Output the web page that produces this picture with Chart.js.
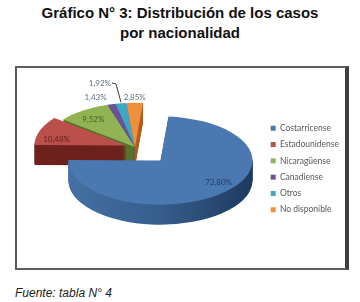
<!DOCTYPE html>
<html><head><meta charset="utf-8">
<script src="https://cdn.jsdelivr.net/npm/chart.js@4/dist/chart.umd.min.js"></script>
<style>
html,body{margin:0;padding:0;background:#fff;width:360px;height:302px;overflow:hidden;}
#title{position:absolute;left:0;top:3px;width:360px;text-align:center;font:bold 15px "Liberation Sans",Arial,sans-serif;line-height:20px;color:#111;}
#frame{position:absolute;left:15px;top:66px;width:328px;height:200px;border-left:2px solid #5c5c5c;border-top:2px solid #5c5c5c;border-right:4px solid #3f3f3f;border-bottom:2px solid #5c5c5c;}
#wrap{position:absolute;left:0;top:67px;width:349px;height:201px;}
#src{position:absolute;left:15px;top:286px;font:italic 12px "Liberation Sans",Arial,sans-serif;color:#222;line-height:14px;}
</style></head>
<body>
<div id="title">Gráfico N° 3: Distribución de los casos<br>por nacionalidad</div>
<div id="frame"></div>
<div id="wrap"><canvas id="c" width="349" height="201"></canvas></div>
<div id="src">Fuente: tabla N° 4</div>
<script>
// ---- data ----
const categories = ['Costarricense', 'Estadounidense', 'Nicaragüense', 'Canadiense', 'Otros', 'No disponible'];
const percentages = [73.80, 10.48, 9.52, 1.43, 1.92, 2.85];
const valueLabels = percentages.map(v => v.toFixed(2).replace('.', ',') + '%');

// ---- style ----
const topColors = ['#4a78b0', '#bb4f4b', '#91b354', '#6d509a', '#3fa6c4', '#f0903f'];
const sideColors = ['#335a8a', '#6e221d', '#56742a', '#3e2a60', '#26708a', '#b25e1c'];
const labelColors = ['#233f66', '#5e1f1c', '#455f20', '#5b6f85', '#5b6f85', '#5b6f85'];
const explode = [38, 9, 0, 0, 0, 0];
const labelRadius = [0.8, 0.77, 0.78, 1.21, 1.5, 1.13];
const labelNudge = [-10, -10, -1, -6, -6, 0];
const leader = [false, false, false, false, true, false];
const TILT = 0.48, DEPTH = 20, LIFT = -22, RADIUS = 92;

const pie3d = {
  id: 'pie3d',
  beforeDatasetsDraw(chart) {
    const ctx = chart.ctx;
    const arcs = chart.getDatasetMeta(0).data;
    const cx = arcs[0].x, cy = arcs[0].y;
    const mid = a => (a.startAngle + a.endAngle) / 2;
    const place = (d, i) => {
      const a = arcs[i], m = mid(a), e = explode[i];
      ctx.translate(cx, cy + LIFT + d);
      ctx.scale(1, TILT);
      ctx.translate(-cx + Math.cos(m) * e, -cy + Math.sin(m) * e);
    };
    const drawWith = (i, color) => {
      const a = arcs[i];
      const f = Object.create(a);
      f.options = Object.assign({}, a.options, {backgroundColor: color, borderWidth: 0, offset: 0});
      f.draw(ctx);
    };
    // sides
    for (let d = DEPTH; d >= 1; d--) {
      for (let i = 0; i < arcs.length; i++) {
        ctx.save();
        place(d, i);
        let col = sideColors[i];
        if (i === 0) {
          const a = arcs[0];
          const g = ctx.createLinearGradient(a.x - RADIUS, 0, a.x + RADIUS, 0);
          g.addColorStop(0, '#4470a3');
          g.addColorStop(0.5, '#365d8c');
          g.addColorStop(1, '#1e3a5f');
          col = g;
        }
        drawWith(i, col);
        ctx.restore();
      }
    }
    // tops
    for (let i = 0; i < arcs.length; i++) {
      ctx.save();
      place(0, i);
      arcs[i].draw(ctx);
      ctx.restore();
    }
    // labels
    ctx.save();
    ctx.font = '8px Lato';
    ctx.textAlign = 'center';
    ctx.textBaseline = 'middle';
    for (let i = 0; i < arcs.length; i++) {
      const a = arcs[i], m = mid(a), e = explode[i];
      const ml = m + labelNudge[i] * Math.PI / 180;
      const r = a.outerRadius * labelRadius[i];
      const lx = cx + Math.cos(m) * e + Math.cos(ml) * r;
      const ly = cy + LIFT + TILT * (Math.sin(m) * e + Math.sin(ml) * r);
      ctx.fillStyle = labelColors[i];
      ctx.fillText(valueLabels[i], lx, ly);
      if (leader[i]) {
        const w = ctx.measureText(valueLabels[i]).width;
        const ox = cx + Math.cos(m) * (e + a.outerRadius);
        const oy = cy + LIFT + TILT * Math.sin(m) * (e + a.outerRadius);
        ctx.strokeStyle = '#3a3a3a';
        ctx.lineWidth = 1;
        ctx.beginPath();
        ctx.moveTo(lx + w / 2 + 1, ly);
        ctx.lineTo(lx + w / 2 + 5, ly + 1);
        ctx.lineTo(ox, oy - 1);
        ctx.stroke();
      }
    }
    ctx.restore();
    return false;
  }
};

new Chart(document.getElementById('c'), {
  type: 'pie',
  data: {
    labels: categories,
    datasets: [{
      data: percentages,
      backgroundColor: topColors,
      borderWidth: 0,
      radius: RADIUS
    }]
  },
  options: {
    responsive: false,
    animation: false,
    devicePixelRatio: 1,
    rotation: 5,
    layout: {padding: {top: 3, right: 0, left: 7, bottom: 0}},
    plugins: {
      legend: {
        position: 'right',
        labels: {
          boxWidth: 5, boxHeight: 5, padding: 7.8,
          color: '#595959',
          font: {family: 'Lato', size: 8.5}
        }
      },
      tooltip: {enabled: false}
    }
  },
  plugins: [pie3d]
});
</script>
</body></html>
